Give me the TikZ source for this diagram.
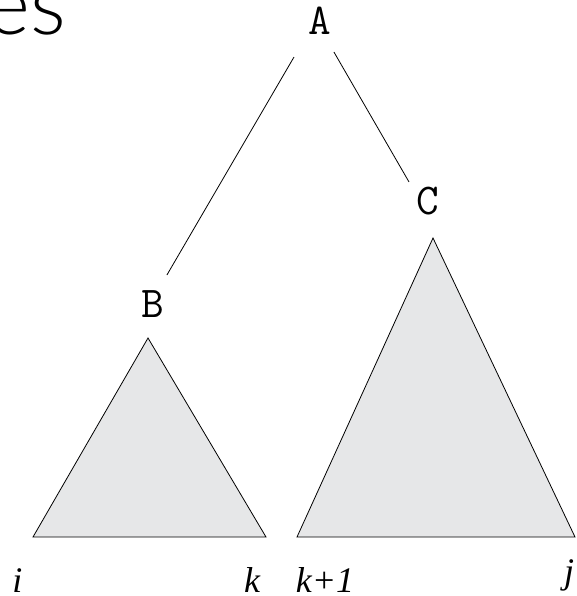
\documentclass[tikz,border=0pt]{standalone}
\usepackage{fontspec}
\setmainfont{Liberation Serif}
\newfontfamily\esfont{Lato Light}
\definecolor{treegray}{RGB}{230,231,232}
\begin{document}
\begin{tikzpicture}[x=1pt,y=-1pt,
  treenode/.style={font=\fontsize{44}{44}\selectfont\ttfamily, inner sep=0pt},
  idx/.style={font=\fontsize{36}{36}\selectfont\itshape, inner sep=0pt, anchor=base},
  subtree/.style={fill=treegray, draw=black, line width=0.8pt, line join=miter},
  branch/.style={draw=black, line width=0.8pt}]
\useasboundingbox (0,0) rectangle (576,596);
\clip (0,0) rectangle (576,596);

% heading fragment, cut at the left edge
\node[anchor=base west, font=\esfont\fontsize{84}{84}\selectfont, inner sep=0pt] (title) at (-14,35) {es};

% subtrees
\filldraw[subtree] (148,338) -- (266,537) -- (33,537) -- cycle;
\filldraw[subtree] (433,238) -- (575,537) -- (297,537) -- cycle;

% tree nodes
\node[treenode] (A) at (320,21) {A};
\node[treenode] (B) at (153,304) {B};
\node[treenode] (C) at (428,201) {C};

% branches
\draw[branch, shorten <=41.7pt, shorten >=33.6pt] ([xshift=-5pt]A.center) -- ([xshift=-3pt]B.center);
\draw[branch, shorten <=35.8pt, shorten >=22pt] ([xshift=-4pt]A.center) -- ([xshift=-8pt]C.center);

% index labels
\node[idx] (i) at (17.5,592) {i};
\node[idx] (k) at (252,592) {k};
\node[idx] (k1) at (325,592) {k+1};
\node[idx] (j) at (569,583) {j};
\end{tikzpicture}
\end{document}
